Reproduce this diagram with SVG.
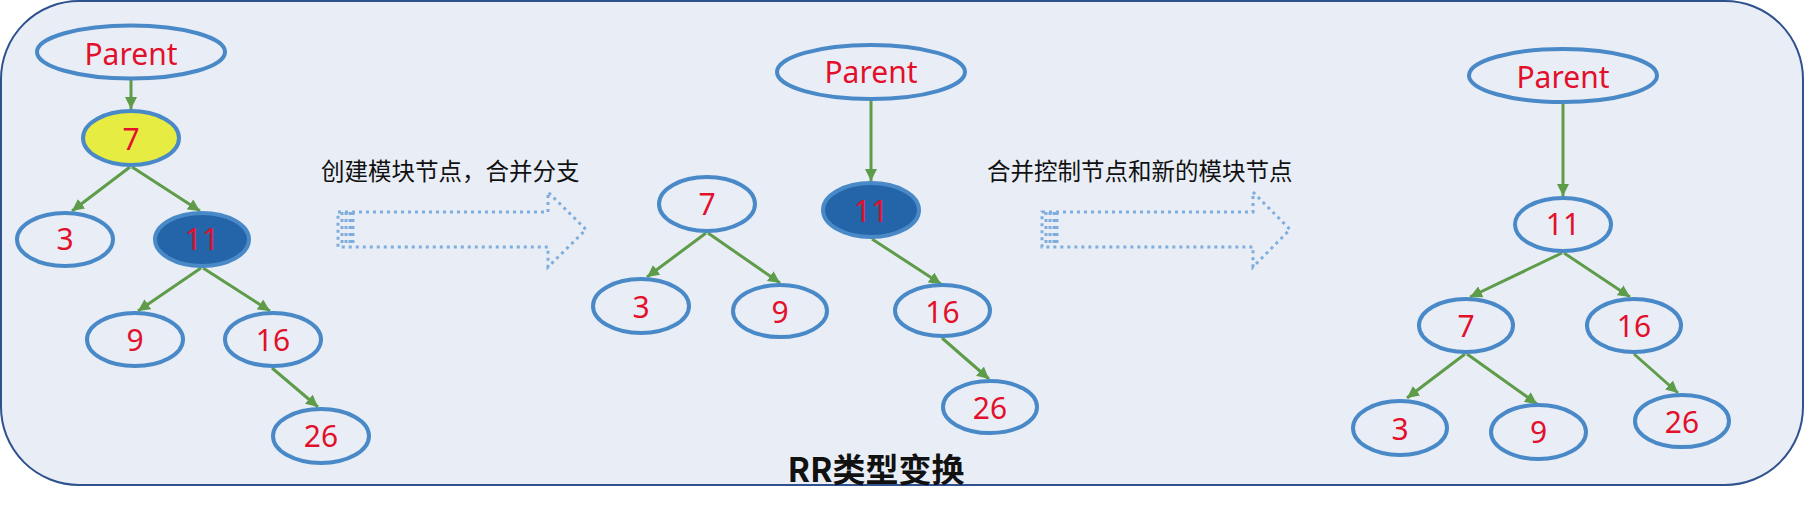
<svg xmlns="http://www.w3.org/2000/svg" width="1804" height="512" viewBox="0 0 1804 512">
<defs>
<style>
.nd{fill:none;stroke:#4A89C8;stroke-width:4}
.dk{fill:#2365A8;stroke:#4A89C8;stroke-width:4}
.yl{fill:#E6EC42;stroke:#4A89C8;stroke-width:4}
.lb{font-family:"Noto Sans","Open Sans",sans-serif;font-size:30px;fill:#E3102C;text-anchor:middle}
.cn{font-family:"Noto Sans CJK SC",sans-serif;font-size:23.5px;fill:#111}
.ed{stroke:#5E9C4A;stroke-width:3;fill:none;marker-end:url(#ah)}
.da{fill:none;stroke:#7FAEDE;stroke-width:3;stroke-dasharray:3 4}
</style>
<marker id="ah" viewBox="0 0 10 10" refX="10" refY="5" markerWidth="12" markerHeight="12" markerUnits="userSpaceOnUse" orient="auto">
<path d="M0,0 L10,5 L0,10 z" fill="#5E9C4A"/>
</marker>
</defs>
<rect x="1" y="1" width="1802" height="484" rx="78" ry="78" fill="#E9EEF6" stroke="#2F528F" stroke-width="2"/>

<g id="connectors">
<line class="ed" x1="131" y1="80" x2="131" y2="109"/>
<line class="ed" x1="130" y1="167" x2="72" y2="211"/>
<line class="ed" x1="132" y1="167" x2="200" y2="211"/>
<line class="ed" x1="201" y1="268" x2="138" y2="311"/>
<line class="ed" x1="203" y1="268" x2="270" y2="311"/>
<line class="ed" x1="272" y1="368" x2="318" y2="407"/>

<line class="ed" x1="871" y1="101" x2="871" y2="181"/>
<line class="ed" x1="706" y1="233" x2="647" y2="277"/>
<line class="ed" x1="708" y1="233" x2="780" y2="283"/>
<line class="ed" x1="872" y1="239" x2="941" y2="284"/>
<line class="ed" x1="942" y1="338" x2="989" y2="379"/>

<line class="ed" x1="1563" y1="104" x2="1563" y2="196"/>
<line class="ed" x1="1562" y1="253" x2="1470" y2="297"/>
<line class="ed" x1="1564" y1="253" x2="1630" y2="297"/>
<line class="ed" x1="1465" y1="354" x2="1407" y2="398"/>
<line class="ed" x1="1467" y1="354" x2="1537" y2="404"/>
<line class="ed" x1="1634" y1="354" x2="1678" y2="393"/>
</g>

<g id="arrow1">
<path class="da" d="M338,212 H548 V192 L586,229.5 L548,267 V247 H338 Z"/>
<path class="da" d="M342,212 V247 M346,212 V247 M350,212 V247 M353,212 V247"/>
</g>
<g id="arrow2">
<path class="da" d="M1042,212 H1253 V192 L1290,229.5 L1253,267 V247 H1042 Z"/>
<path class="da" d="M1046,212 V247 M1050,212 V247 M1054,212 V247 M1057,212 V247"/>
</g>

<g id="label1"><text class="cn" x="321" y="180">创建模块节点，合并分支</text></g>
<g id="label2"><text class="cn" x="987" y="180">合并控制节点和新的模块节点</text></g>

<g id="L-parent"><ellipse class="nd" cx="131" cy="52" rx="94" ry="26.5"/><text class="lb" x="131" y="65">Parent</text></g>
<g id="L-7"><ellipse class="yl" cx="131" cy="138" rx="48" ry="27"/><text class="lb" x="131" y="150">7</text></g>
<g id="L-3"><ellipse class="nd" cx="65" cy="239.5" rx="48" ry="26.5"/><text class="lb" x="65" y="250">3</text></g>
<g id="L-11"><ellipse class="dk" cx="202" cy="239.5" rx="47" ry="26.5"/><text class="lb" x="202" y="250">11</text></g>
<g id="L-9"><ellipse class="nd" cx="135" cy="339.5" rx="48" ry="26.5"/><text class="lb" x="135" y="351">9</text></g>
<g id="L-16"><ellipse class="nd" cx="273" cy="339.5" rx="48" ry="26.5"/><text class="lb" x="273" y="351">16</text></g>
<g id="L-26"><ellipse class="nd" cx="321" cy="436" rx="48" ry="27"/><text class="lb" x="321" y="447">26</text></g>

<g id="M-parent"><ellipse class="nd" cx="871" cy="72" rx="94" ry="27"/><text class="lb" x="871" y="83">Parent</text></g>
<g id="M-11"><ellipse class="dk" cx="871" cy="210" rx="48" ry="27"/><text class="lb" x="871" y="222">11</text></g>
<g id="M-7"><ellipse class="nd" cx="707" cy="204" rx="48" ry="27"/><text class="lb" x="707" y="215">7</text></g>
<g id="M-3"><ellipse class="nd" cx="641" cy="306" rx="48" ry="27"/><text class="lb" x="641" y="318">3</text></g>
<g id="M-9"><ellipse class="nd" cx="780" cy="311" rx="47" ry="26"/><text class="lb" x="780" y="323">9</text></g>
<g id="M-16"><ellipse class="nd" cx="942.5" cy="310.5" rx="47.5" ry="25.5"/><text class="lb" x="942.5" y="323">16</text></g>
<g id="M-26"><ellipse class="nd" cx="990" cy="407" rx="47" ry="26"/><text class="lb" x="990" y="419">26</text></g>

<g id="R-parent"><ellipse class="nd" cx="1563" cy="75.5" rx="94" ry="26.5"/><text class="lb" x="1563" y="88">Parent</text></g>
<g id="R-11"><ellipse class="nd" cx="1563" cy="224.5" rx="48" ry="26.5"/><text class="lb" x="1563" y="235">11</text></g>
<g id="R-7"><ellipse class="nd" cx="1466" cy="325.5" rx="47" ry="26.5"/><text class="lb" x="1466" y="337">7</text></g>
<g id="R-16"><ellipse class="nd" cx="1634" cy="325.5" rx="47" ry="26.5"/><text class="lb" x="1634" y="337">16</text></g>
<g id="R-3"><ellipse class="nd" cx="1400" cy="428" rx="47" ry="27"/><text class="lb" x="1400" y="440">3</text></g>
<g id="R-9"><ellipse class="nd" cx="1538.5" cy="432" rx="47.5" ry="27"/><text class="lb" x="1538.5" y="443">9</text></g>
<g id="R-26"><ellipse class="nd" cx="1682" cy="421" rx="47" ry="26"/><text class="lb" x="1682" y="433">26</text></g>

<g id="title"><text x="876" y="482" text-anchor="middle" font-family="'Noto Sans CJK SC',sans-serif" font-weight="bold" font-size="33" fill="#111">RR类型变换</text></g>
</svg>
